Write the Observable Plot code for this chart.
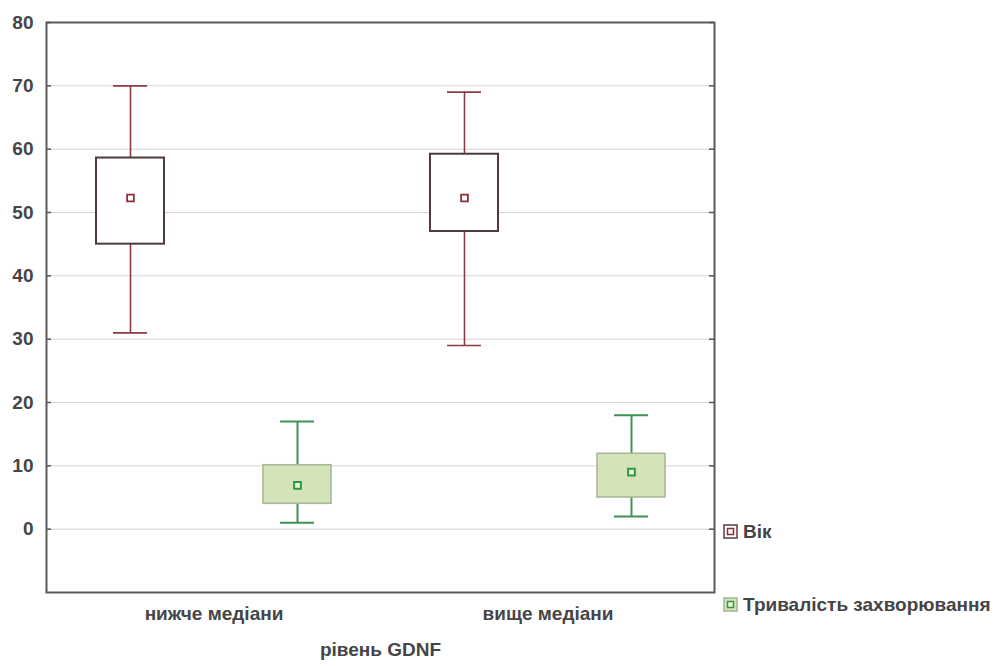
<!DOCTYPE html>
<html><head><meta charset="utf-8">
<script src="https://cdn.jsdelivr.net/npm/d3@7"></script>
<script src="https://cdn.jsdelivr.net/npm/@observablehq/plot@0.6"></script>
<style>
body{margin:0;background:#fff;font-family:"Liberation Sans",Arial,sans-serif;}
#wrap{position:relative;width:1003px;height:666px;}
.leg{position:absolute;left:723px;display:flex;align-items:center;font-size:19px;font-weight:bold;color:#454545;line-height:1;}
.leg svg{margin-right:5px;}
</style></head><body><div id="wrap"></div>
<script>
const groups = ["нижче медіани", "вище медіани"];
const seriesNames = ["Вік", "Тривалість захворювання"];
const yTicks = [0, 10, 20, 30, 40, 50, 60, 70, 80];

// Вік (age)
const ageMin  = [31, 29];
const ageQ1   = [45, 47];
const ageMean = [52.3, 52.3];
const ageQ3   = [58.6, 59.2];
const ageMax  = [70, 69];
// Тривалість захворювання (duration)
const durMin  = [1, 2];
const durQ1   = [4, 5];
const durMean = [6.9, 9];
const durQ3   = [10.1, 11.9];
const durMax  = [17, 18];

const seriesData = [
  {min: ageMin, q1: ageQ1, mean: ageMean, q3: ageQ3, max: ageMax},
  {min: durMin, q1: durQ1, mean: durMean, q3: durQ3, max: durMax}
];
const rows = [];
groups.forEach((g, gi) => seriesNames.forEach((s, si) => {
  const d = seriesData[si];
  rows.push({group: g, series: s, key: g + "|" + s,
    min: d.min[gi], q1: d.q1[gi], mean: d.mean[gi], q3: d.q3[gi], max: d.max[gi]});
}));
const keys = rows.map(d => d.key);
const age = rows.filter(d => d.series === seriesNames[0]);
const dur = rows.filter(d => d.series === seriesNames[1]);

const ageWhisker = "#8c3a46", ageBox = "#4e3a3c", ageMark = "#8e2d3a";
const durWhisker = "#3f9256", durFill = "#d5e4b8", durBox = "#a2b594", durMark = "#2e9a3e";

const W = 1003, H = 666, mL = 46, mR = 289, mT = 22, mB = 74;
const innerW = W - mL - mR;
const step = innerW / 4;

const plot = Plot.plot({
  width: W, height: H,
  marginLeft: mL, marginRight: mR, marginTop: mT, marginBottom: mB,
  style: {fontFamily: '"Liberation Sans", Arial, sans-serif', fontSize: "19px", fontWeight: "bold", color: "#454545", background: "#fff"},
  x: {type: "band", domain: keys, paddingInner: 0.593, paddingOuter: 0.2965, axis: null},
  y: {domain: [-10, 80], axis: null},
  marks: [
    Plot.gridY(yTicks, {stroke: "#d4d4d4", strokeOpacity: 1}),
    Plot.tickY(yTicks, {y: d => d, insetRight: innerW - 5, stroke: "#555", strokeWidth: 1.5}),
    Plot.tickY(yTicks, {y: d => d, insetLeft: innerW - 5, stroke: "#555", strokeWidth: 1.5}),
    Plot.axisY({ticks: yTicks, tickSize: 0, tickPadding: 13, label: null}),
    Plot.axisX({ticks: age.map(d => d.key), tickFormat: k => k.split("|")[0], tickSize: 0, tickPadding: 14, dx: step / 2, label: null}),
    Plot.text(["рівень GDNF"], {frameAnchor: "bottom", dy: 63, fontSize: 19, fill: "#454545"}),
    // whiskers
    Plot.ruleX(age, {x: "key", y1: "max", y2: "q3", stroke: ageWhisker, strokeWidth: 1.6}),
    Plot.ruleX(age, {x: "key", y1: "q1", y2: "min", stroke: ageWhisker, strokeWidth: 1.6}),
    Plot.tickY(age, {x: "key", y: "max", insetLeft: 17, insetRight: 17, stroke: ageWhisker, strokeWidth: 1.6}),
    Plot.tickY(age, {x: "key", y: "min", insetLeft: 17, insetRight: 17, stroke: ageWhisker, strokeWidth: 1.6}),
    Plot.ruleX(dur, {x: "key", y1: "max", y2: "q3", stroke: durWhisker, strokeWidth: 2}),
    Plot.ruleX(dur, {x: "key", y1: "q1", y2: "min", stroke: durWhisker, strokeWidth: 2}),
    Plot.tickY(dur, {x: "key", y: "max", insetLeft: 17, insetRight: 17, stroke: durWhisker, strokeWidth: 2}),
    Plot.tickY(dur, {x: "key", y: "min", insetLeft: 17, insetRight: 17, stroke: durWhisker, strokeWidth: 2}),
    // boxes
    Plot.barY(age, {x: "key", y1: "q1", y2: "q3", fill: "#fff", stroke: ageBox, strokeWidth: 2}),
    Plot.barY(dur, {x: "key", y1: "q1", y2: "q3", fill: durFill, stroke: durBox, strokeWidth: 1.5}),
    // means
    Plot.dot(age, {x: "key", y: "mean", symbol: "square", r: 3.8, stroke: ageMark, fill: "#fff", strokeWidth: 1.8}),
    Plot.dot(dur, {x: "key", y: "mean", symbol: "square", r: 3.8, stroke: durMark, fill: "#eef5e0", strokeWidth: 2}),
    Plot.frame({stroke: "#5a5a5a", strokeWidth: 2})
  ]
});
const wrap = document.getElementById("wrap");
wrap.appendChild(plot);

function legendItem(label, top, stroke, fill, innerStroke, innerFill) {
  const div = document.createElement("div");
  div.className = "leg";
  div.style.top = top + "px";
  div.innerHTML = `<svg width="15" height="15"><rect x="1" y="1" width="13" height="13" fill="${fill}" stroke="${stroke}" stroke-width="1.5"/><rect x="4.5" y="4.5" width="6" height="6" fill="${innerFill}" stroke="${innerStroke}" stroke-width="1.5"/></svg><span>${label}</span>`;
  wrap.appendChild(div);
}
legendItem(seriesNames[0], 522, "#5a3a3e", "#fff", ageMark, "#fff");
legendItem(seriesNames[1], 595, durBox, durFill, durMark, "#eef5e0");
</script>
</body></html>
